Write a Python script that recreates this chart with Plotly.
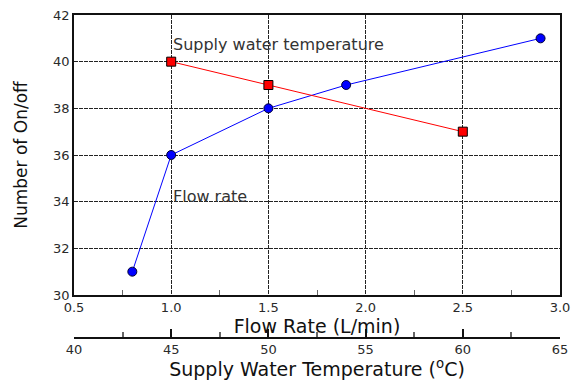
import plotly.graph_objects as go

# Number of on/off cycles versus flow rate
flow_rate = [0.8, 1.0, 1.5, 1.9, 2.9]
onoff_flow = [31, 36, 38, 39, 41]

# Number of on/off cycles versus supply water temperature
supply_temp = [45, 50, 60]
onoff_temp = [40, 39, 37]

FONT = "DejaVu Sans, Liberation Sans, sans-serif"
INK = "#111111"
TICK_INK = "#2a2a2a"
GRID = dict(showgrid=True, gridcolor="#222222", gridwidth=1.2, griddash="4px,1px")

fig = go.Figure()

fig.add_trace(go.Scatter(
    x=flow_rate, y=onoff_flow, mode="lines+markers",
    line=dict(color="#0000ff", width=1),
    marker=dict(symbol="circle", size=9, color="#0000ff",
                line=dict(color="#000033", width=1)),
    xaxis="x", yaxis="y", showlegend=False,
))

fig.add_trace(go.Scatter(
    x=supply_temp, y=onoff_temp, mode="lines+markers",
    line=dict(color="#ff0000", width=1),
    marker=dict(symbol="square", size=9, color="#ff0000",
                line=dict(color="#000000", width=1)),
    xaxis="x2", yaxis="y", showlegend=False,
))

fig.add_annotation(x=1.0, y=40.25, xref="x", yref="y", text="Supply water temperature",
                   showarrow=False, xanchor="left", yanchor="bottom",
                   font=dict(family=FONT, size=16, color="#333333"))
fig.add_annotation(x=1.0, y=33.75, xref="x", yref="y", text="Flow rate",
                   showarrow=False, xanchor="left", yanchor="bottom",
                   font=dict(family=FONT, size=16, color="#333333"))

fig.update_layout(
    width=581, height=380,
    margin=dict(l=74, r=21, t=15, b=42, autoexpand=False),
    paper_bgcolor="white", plot_bgcolor="white",
    font=dict(family=FONT, size=13, color=INK),
    xaxis=dict(
        range=[0.5, 3.0], dtick=0.5, tickformat=".1f", automargin=False,
        showline=True, linecolor="#111111", linewidth=1.5, mirror=True,
        ticks="", zeroline=False, **GRID,
        minor=dict(dtick=0.25, ticks="inside", ticklen=5, tickcolor="#666666", showgrid=False),
        title=dict(text="Flow Rate (L/min)", standoff=0,
                   font=dict(family=FONT, size=19, color=INK)),
        tickfont=dict(family=FONT, size=13, color=TICK_INK),
    ),
    xaxis2=dict(
        range=[40, 65], dtick=5, overlaying="x", anchor="free", position=0, side="bottom",
        automargin=False,
        showline=True, linecolor="#111111", linewidth=1.5,
        showgrid=False, zeroline=False,
        ticks="inside", ticklen=8, tickcolor="#111111", tickwidth=1.5,
        minor=dict(dtick=2.5, ticks="inside", ticklen=5, tickcolor="#666666"),
        title=dict(text="Supply Water Temperature (<sup>o</sup>C)", standoff=0,
                   font=dict(family=FONT, size=19, color=INK)),
        tickfont=dict(family=FONT, size=13, color=TICK_INK),
    ),
    yaxis=dict(
        domain=[43 / 323, 1], range=[30, 42], dtick=2, automargin=False,
        showline=True, linecolor="#111111", linewidth=1.5, mirror=True,
        ticks="", zeroline=False, **GRID,
        title=dict(text="Number of On/off", standoff=21,
                   font=dict(family=FONT, size=17, color=INK)),
        tickfont=dict(family=FONT, size=13, color=TICK_INK),
    ),
)

fig.write_html("out.html")
